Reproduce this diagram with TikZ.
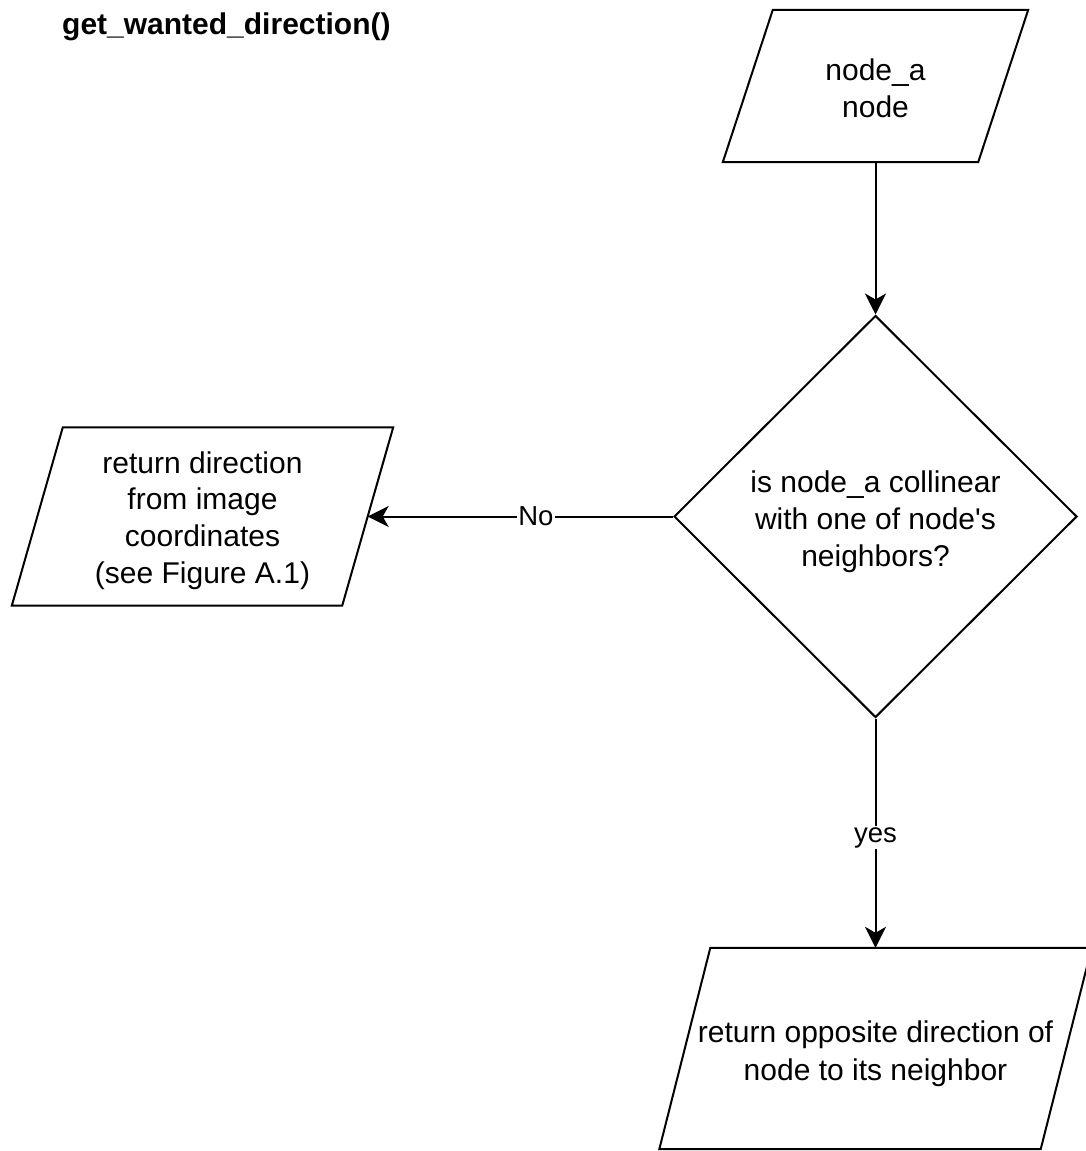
\documentclass[tikz,border=0pt]{standalone}
\usepackage{fontspec}
\setmainfont{Liberation Sans}
\usetikzlibrary{shapes.geometric,arrows.meta}
\begin{document}
\begin{tikzpicture}[x=1pt,y=-1pt,
  every node/.style={font=\fontsize{30}{36.8}\selectfont},
  boxarea/.style={inner sep=0pt},
  boxtext/.style={align=center,inner sep=0pt},
  outline/.style={draw=black,line width=2pt,line join=miter},
  decision/.style={diamond,outline,inner sep=0pt,aspect=1},
  flow/.style={draw=black,line width=2pt,-{Stealth[length=21pt,width=21pt,inset=6pt]}},
  edgelabel/.style={fill=white,inner sep=1pt,font=\fontsize{27.5}{33}\selectfont}]
\useasboundingbox (0,0) rectangle (1085,1151);

% heading
\node[anchor=base west,inner sep=0pt,font=\fontsize{30}{36}\selectfont\bfseries] (title) at (62,34) {get\_wanted\_direction()};

% input: node_a, node
\node[boxarea,minimum width=305pt,minimum height=152pt] (inp) at (875.5,86) {};
\draw[outline] ([xshift=50pt]inp.north west) -- (inp.north east)
  -- ([xshift=-50pt]inp.south east) -- (inp.south west) -- cycle;
\node[boxtext] (inptext) at ([yshift=-2pt]inp.center) {node\_a\\node};

% decision
\node[decision,minimum width=403pt,minimum height=402pt] (dec) at (875.5,516.5) {};
\node[boxtext] (dectext) at ([yshift=-5pt]dec.center)
  {is node\_a collinear\\with one of node\textquotesingle s\\neighbors?};

% output when not collinear
\node[boxarea,minimum width=381pt,minimum height=178pt] (imgdir) at (202.5,516.5) {};
\draw[outline] ([xshift=51pt]imgdir.north west) -- (imgdir.north east)
  -- ([xshift=-51pt]imgdir.south east) -- (imgdir.south west) -- cycle;
\node[boxtext] (imgdirtext) at ([yshift=-4pt]imgdir.center)
  {return direction\\from image\\coordinates\\(see Figure A.1)};
\coordinate (imgdirin) at ([xshift=-25.5pt]imgdir.east);

% output when collinear
\node[boxarea,minimum width=432pt,minimum height=201pt] (opp) at (875.5,1048.5) {};
\draw[outline] ([xshift=51pt]opp.north west) -- (opp.north east)
  -- ([xshift=-51pt]opp.south east) -- (opp.south west) -- cycle;
\node[boxtext,font=\fontsize{30}{38}\selectfont] (opptext) at ([yshift=-5pt]opp.center)
  {return opposite direction of\\node to its neighbor};

% connectors
\draw[flow] (inp.south) -- (dec.north);
\draw[flow] (dec.west) -- node[edgelabel,pos=0.449] (nolbl) {No} (imgdirin);
\draw[flow] (dec.south) -- node[edgelabel,pos=0.52] (yeslbl) {yes} (opp.north);
\end{tikzpicture}
\end{document}
